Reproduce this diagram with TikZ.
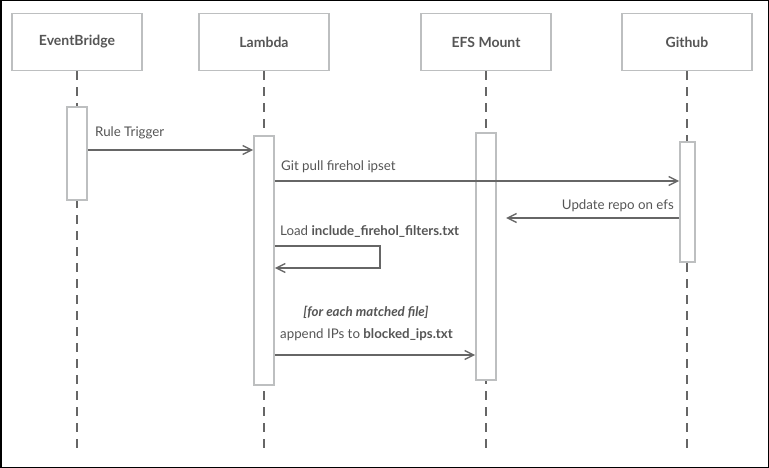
\documentclass[tikz,border=0pt]{standalone}
\usepackage{fontspec}
\setmainfont{Lato}
\usetikzlibrary{arrows.meta}
\definecolor{boxgray}{HTML}{BDBFC0}
\definecolor{linegray}{HTML}{666666}
\definecolor{txtgray}{HTML}{555555}
\tikzset{
  x=1pt, y=-1pt,
  header/.style={draw=boxgray, line width=1.6pt, fill=white, minimum width=130pt, minimum height=57pt, inner sep=0pt, font=\fontsize{14}{16}\selectfont\bfseries, text=txtgray},
  lifeline/.style={draw=linegray, line width=1.6pt, dash pattern=on 9pt off 7pt},
  actbar/.style={draw=boxgray, line width=1.6pt, fill=white},
  msg/.style={draw=linegray, line width=1.6pt, -{Straight Barb[length=9pt,width=9pt,line width=1.4pt]}},
  lbl/.style={font=\fontsize{13.3}{15}\selectfont, text=txtgray, inner sep=0pt}
}
\begin{document}
\begin{tikzpicture}
\useasboundingbox (0,0) rectangle (769,468);
\draw[black, line width=1.5pt] (0.75,0.75) rectangle (768.25,467.25);
% headers
\node[header] (eb) at (77,42) {EventBridge};
\node[header] (la) at (264,42) {Lambda};
\node[header] (efs) at (486,42) {EFS Mount};
\node[header] (gh) at (687,42) {Github};
% lifeline ends
\coordinate (ebEnd) at (77,452);
\coordinate (laEnd) at (264,452);
\coordinate (efsEnd) at (486,452);
\coordinate (ghEnd) at (687,452);
\draw[lifeline] (eb.south) -- (ebEnd);
\draw[lifeline] (la.south) -- (laEnd);
\draw[lifeline] (efs.south) -- (efsEnd);
\draw[lifeline] (gh.south) -- (ghEnd);
% activation bars
\node[actbar, minimum width=20pt, minimum height=93pt, inner sep=0pt] (ebA) at (77,153.5) {};
\node[actbar, minimum width=20pt, minimum height=249pt, inner sep=0pt] (laA) at (264,260.5) {};
\node[actbar, minimum width=20pt, minimum height=247pt, inner sep=0pt] (efsA) at (486,256.5) {};
\node[actbar, minimum width=15pt, minimum height=120pt, inner sep=0pt] (ghA) at (687.5,202) {};
% messages
\draw[msg] (ebA.east |- 0,150) -- (laA.west |- 0,150);
\node[lbl, anchor=base west] (l1) at (95,137) {Rule Trigger};
\draw[msg] (laA.east |- 0,181) -- (ghA.west |- 0,181);
\node[lbl, anchor=base west] (l2) at (281,171) {Git pull firehol ipset};
\draw[msg] (ghA.west |- 0,218) -- (506,218);
\node[lbl, anchor=base east] (l3) at (674,209) {Update repo on efs};
\node[lbl, anchor=base west] (l4) at (280,235) {Load \textbf{include\_firehol\_filters.txt}};
\coordinate (lp1) at (380,246);
\coordinate (lp2) at (380,268);
\draw[msg] (laA.east |- 0,246) -- (lp1) -- (lp2) -- (laA.east |- 0,268);
\node[lbl, anchor=base, font=\fontsize{13.3}{15}\selectfont\bfseries\itshape] (l5) at (366,316) {[for each matched file]};
\node[lbl, anchor=base west] (l6) at (280,338) {append IPs to \textbf{blocked\_ips.txt}};
\draw[msg] (laA.east |- 0,355) -- (efsA.west |- 0,355);
\end{tikzpicture}
\end{document}
